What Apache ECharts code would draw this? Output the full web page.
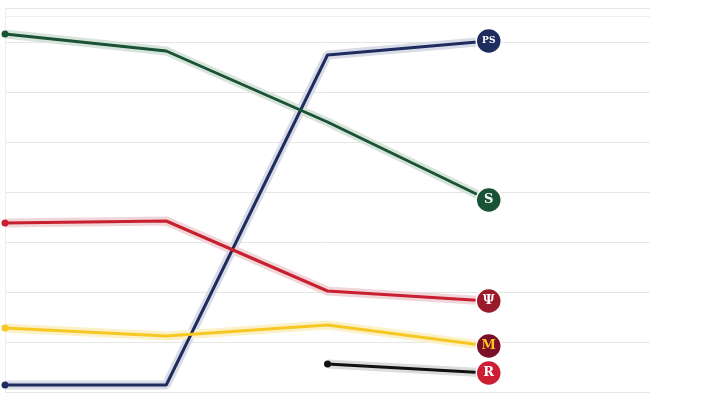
<!DOCTYPE html><html><head><meta charset="utf-8"><script src="https://cdn.jsdelivr.net/npm/echarts@6/dist/echarts.min.js"></script>
<style>html,body{margin:0;background:#fff}#c{width:712px;height:400px}</style></head><body><div id="c"></div><script>
const steps=[0,1,2,3];
const teams=['Penn State','Michigan State','Indiana','Minnesota','Rutgers'];
const pennState=[0.14,0.14,6.74,7.02];
const michiganState=[7.16,6.82,5.4,3.84];
const indiana=[3.38,3.42,2.02,1.82];
const minnesota=[1.28,1.12,1.34,0.92];
const rutgers=[null,null,0.56,0.38];
const colors=['#1e2d5e','#1a5235','#c8202f','#f7c823','#111111'];
const halo=['#d9dbe6','#d7e4dc','#f0d6d9','#fbf1c8','#dcdcdc'];
const badge=['#1e2d5e','#1a5235','#9b1a2a','#7a0f27','#cc1f36'];
const badgeText=['PS','S','Ψ','M','R'];
const badgeTextColor=['#fff','#fff','#fff','#f7c823','#fff'];
const data=[pennState,michiganState,indiana,minnesota,rutgers];
const series=[];
data.forEach((d,i)=>{
  const pts=steps.map((s,j)=>[s,d[j]]);
  series.push({type:'line',data:pts,symbol:'none',lineStyle:{width:9,color:halo[i]},silent:true,z:1});
});
data.forEach((d,i)=>{
  const first=d.findIndex(v=>v!==null);
  const pts=steps.map((s,j)=>{
    const o={value:[s,d[j]],symbol:'none'};
    if(j===first){o.symbol='circle';o.symbolSize=7;}
    if(j===steps.length-1){o.symbol='circle';o.symbolSize=25;o.itemStyle={color:badge[i],borderColor:'#fff',borderWidth:1.5};
      o.label={show:true,position:'inside',formatter:badgeText[i],color:badgeTextColor[i],fontWeight:'bold',fontSize:i===0?9:13,fontFamily:'DejaVu Serif'};}
    return o;});
  series.push({name:teams[i],type:'line',data:pts,showAllSymbol:true,lineStyle:{width:3,color:colors[i]},itemStyle:{color:colors[i]},z:3});
});
series[0].markLine={silent:true,symbol:'none',label:{show:false},lineStyle:{color:'#eeeeee',type:'solid',width:1},data:[{yAxis:7.52}]};
const ch=echarts.init(document.getElementById('c'));
ch.setOption({animation:false,grid:{left:5,right:62,top:8,bottom:8},
 xAxis:{type:'value',min:0,max:4,interval:1,show:false},
 yAxis:{type:'value',min:0,max:7.68,interval:1,axisLabel:{show:false},axisTick:{show:false},axisLine:{show:true,lineStyle:{color:'#eeeeee'}},splitLine:{lineStyle:{color:'#e6e6e6'}}},
 series});
</script></body></html>
